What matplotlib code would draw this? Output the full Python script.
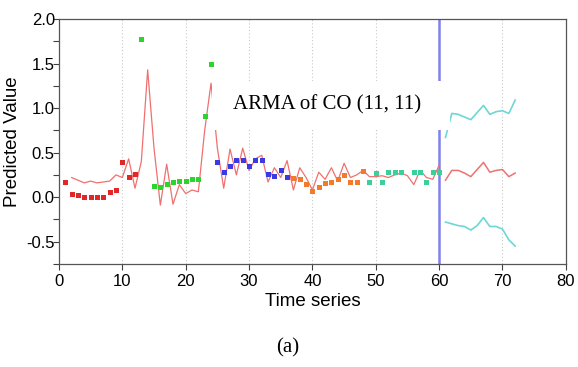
import numpy as np
import matplotlib
matplotlib.use('Agg')
import matplotlib.pyplot as plt
from matplotlib.ticker import MultipleLocator
from matplotlib.patches import Rectangle

# observed values, colored by block of 12
t_red = np.arange(1, 13)
y_red = [0.17, 0.04, 0.02, 0.0, 0.0, 0.0, 0.0, 0.055, 0.075, 0.40, 0.23, 0.26]
t_green = np.arange(13, 25)
y_green = [1.78, np.nan, 0.13, 0.115, 0.15, 0.17, 0.18, 0.18, 0.20, 0.20, 0.91, 1.49]
t_blue = np.arange(25, 37)
y_blue = [0.40, 0.28, 0.35, 0.42, 0.42, 0.35, 0.42, 0.42, 0.26, 0.24, 0.31, 0.23]
t_orange = np.arange(37, 49)
y_orange = [0.22, 0.20, 0.15, 0.07, 0.115, 0.16, 0.175, 0.20, 0.25, 0.175, 0.175, 0.29]
t_teal = np.arange(49, 61)
y_teal = [0.17, 0.27, 0.17, 0.28, 0.28, 0.28, np.nan, 0.28, 0.28, 0.17, 0.28, 0.28]

# fitted ARMA values
t_fit = np.arange(2, 61)
y_fit = [0.22, 0.19, 0.16, 0.18, 0.16, 0.17, 0.18, 0.25, 0.22, 0.43,
         0.10, 0.40, 1.43, 0.55, -0.09, 0.37, -0.08, 0.14, 0.04, 0.08,
         0.06, 0.75, 1.28, 0.55, 0.10, 0.54, 0.25, 0.55, 0.30, 0.43,
         0.47, 0.17, 0.33, 0.22, 0.41, 0.08, 0.33, 0.22, 0.08, 0.28,
         0.20, 0.33, 0.18, 0.38, 0.22, 0.25, 0.30, 0.23, 0.23, 0.24,
         0.22, 0.25, 0.27, 0.24, 0.14, 0.30, 0.22, 0.20, 0.36]

# forecast with bounds
t_fc = np.arange(61, 73)
y_fc = [0.19, 0.30, 0.30, 0.27, 0.23, 0.31, 0.39, 0.28, 0.30, 0.31, 0.23, 0.27]
y_upper = [0.67, 0.94, 0.93, 0.90, 0.87, 0.95, 1.03, 0.93, 0.96, 0.97, 0.94, 1.09]
y_lower = [-0.28, -0.30, -0.32, -0.33, -0.37, -0.32, -0.23, -0.33, -0.33, -0.36, -0.48, -0.55]

plt.rcParams['font.family'] = ['Liberation Sans', 'DejaVu Sans']

fig = plt.figure(figsize=(5.78, 3.67), dpi=100)
ax = fig.add_axes([0.102, 0.281, 0.877, 0.667])

for x in range(10, 80, 10):
    if x != 60:
        ax.axvline(x, color='#c8c8c8', linestyle=(0, (1, 2)), linewidth=0.8, zorder=0)
ax.axvline(60, color='#8080ee', linewidth=1.8, zorder=1)

ax.plot(t_fit, y_fit, color='#f07070', linewidth=0.9, zorder=2)
ax.plot(t_fc, y_fc, color='#f07070', linewidth=1.1, zorder=2)
ax.plot(t_fc, y_upper, color='#6fd6d6', linewidth=1.2, zorder=2)
ax.plot(t_fc, y_lower, color='#6fd6d6', linewidth=1.2, zorder=2)

for t, y, c in [(t_red, y_red, '#e02828'), (t_green, y_green, '#2ed42e'),
                (t_blue, y_blue, '#3a3ae0'), (t_orange, y_orange, '#f27a2a'),
                (t_teal, y_teal, '#3ccf9a')]:
    ax.plot(t, y, linestyle='none', marker='s', markersize=3.6, color=c,
            markeredgewidth=0, zorder=3)

ax.set_xlim(0, 80)
ax.set_ylim(-0.75, 2.0)
ax.xaxis.set_major_locator(MultipleLocator(10))
ax.yaxis.set_minor_locator(MultipleLocator(0.25))
ax.set_yticks([-0.5, 0.0, 0.5, 1.0, 1.5, 2.0])
ax.set_yticklabels(['-0.5', '0.0', '0.5', '1.0', '1.5', '2.0'])
ax.tick_params(axis='x', labelsize=12, color='#404040', length=4, width=0.8, pad=3)
ax.tick_params(axis='y', which='both', labelsize=12, color='#404040', length=4, width=0.8, pad=-1)
for s in ax.spines.values():
    s.set_color('#555555')
    s.set_linewidth(0.9)

ax.set_xlabel('Time series', fontsize=13.5, labelpad=3)
ax.set_ylabel('Predicted Value', fontsize=13.5, labelpad=4)

# white label box covering part of the plot
ax.add_patch(Rectangle((24.2, 0.75), 37.5, 0.56, facecolor='white',
                       edgecolor='none', zorder=4))
ax.text(42.3, 1.04, 'ARMA of CO (11, 11)', family='Liberation Serif',
        fontsize=15, ha='center', va='center', zorder=5)

fig.text(0.497, 0.052, '(a)', family='Liberation Serif', fontsize=15,
         ha='center', va='center')

fig.savefig('out.png', dpi=100)
